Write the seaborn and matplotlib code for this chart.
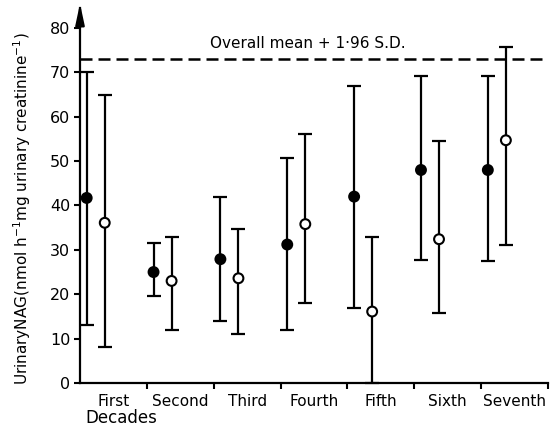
import matplotlib.pyplot as plt
import pandas as pd
import seaborn as sns

# values
decades = ["First", "Second", "Third", "Fourth", "Fifth", "Sixth", "Seventh"]
filled_mean = [41.7, 25.0, 27.9, 31.2, 42.0, 48.0, 48.0]
filled_low = [13.0, 19.6, 14.0, 12.0, 16.8, 27.8, 27.4]
filled_high = [70.0, 31.5, 42.0, 50.8, 66.9, 69.1, 69.1]
open_mean = [36.1, 23.0, 23.6, 35.8, 16.1, 32.4, 54.7]
open_low = [8.1, 12.0, 11.1, 18.0, 0.0, 15.8, 31.0]
open_high = [64.9, 33.0, 34.8, 56.1, 32.8, 54.6, 75.7]
threshold = 73.1

sns.set_style("ticks")
plt.rcParams["font.family"] = ["DejaVu Sans"]
plt.rcParams.update({"text.color": "black", "axes.labelcolor": "black",
                     "xtick.color": "black", "ytick.color": "black",
                     "axes.edgecolor": "black"})

# position of each series inside its decade slot
offsets = {"filled": -0.40, "open": -0.13}

rows = []
for grp, means, lows, highs in [
    ("filled", filled_mean, filled_low, filled_high),
    ("open", open_mean, open_low, open_high),
]:
    for i, d in enumerate(decades):
        rows.append({"decade": d, "group": grp, "x": i + offsets[grp],
                     "mean": means[i], "low": lows[i], "high": highs[i]})
df = pd.DataFrame(rows)

fig = plt.figure(figsize=(5.52, 4.26), dpi=100)
ax = fig.add_axes([80 / 552, 1 - 383 / 426, 468 / 552, 375 / 426])

for grp, sub in df.groupby("group"):
    ax.errorbar(sub["x"], sub["mean"],
                yerr=[sub["mean"] - sub["low"], sub["high"] - sub["mean"]],
                fmt="none", ecolor="black", elinewidth=1.6, capsize=5,
                capthick=1.6, clip_on=False, zorder=2)

sns.scatterplot(data=df, x="x", y="mean", hue="group",
                palette={"filled": "black", "open": "white"},
                edgecolor="black", linewidth=1.5, s=50, legend=False,
                zorder=3, clip_on=False, ax=ax)

ax.axhline(threshold, color="black", lw=1.8, ls=(0, (4.8, 2.4)))
ax.text(1.45, 76.4, "Overall mean + 1·96 S.D.", fontsize=11, va="center", ha="left")

ax.set_xlim(-0.5, 6.5)
ax.set_ylim(0, 84.5)
ax.set_yticks(range(0, 81, 10))
ax.set_xticks([i + 0.5 for i in range(7)])
ax.set_xticklabels([])
ax.set_xticks(range(7), minor=True)
ax.set_xticklabels(decades, minor=True, fontsize=11)
ax.tick_params(axis="x", which="minor", length=0, pad=8)
ax.tick_params(axis="x", which="major", length=4, width=1.5)
ax.tick_params(axis="y", length=4, width=1.5, labelsize=11.5, pad=3)
ax.set_xlabel("")
ax.set_ylabel("")

sns.despine(ax=ax)
for s in ["left", "bottom"]:
    ax.spines[s].set_linewidth(1.6)

ax.annotate("", xy=(-0.5, 85.5), xytext=(-0.5, 80),
            arrowprops=dict(arrowstyle="-|>,head_length=0.7,head_width=0.15",
                            color="black", lw=1.6, mutation_scale=18,
                            shrinkA=0, shrinkB=0),
            annotation_clip=False)

fig.text(22 / 552, 1 - 209 / 426,
         r"UrinaryNAG(nmol h$^{-1}$mg urinary creatinine$^{-1}$)",
         rotation=90, va="center", ha="center", fontsize=11)
fig.text(85 / 552, 1 - 418 / 426, "Decades", va="center", ha="left", fontsize=12)

fig.savefig("out.png", dpi=100)
